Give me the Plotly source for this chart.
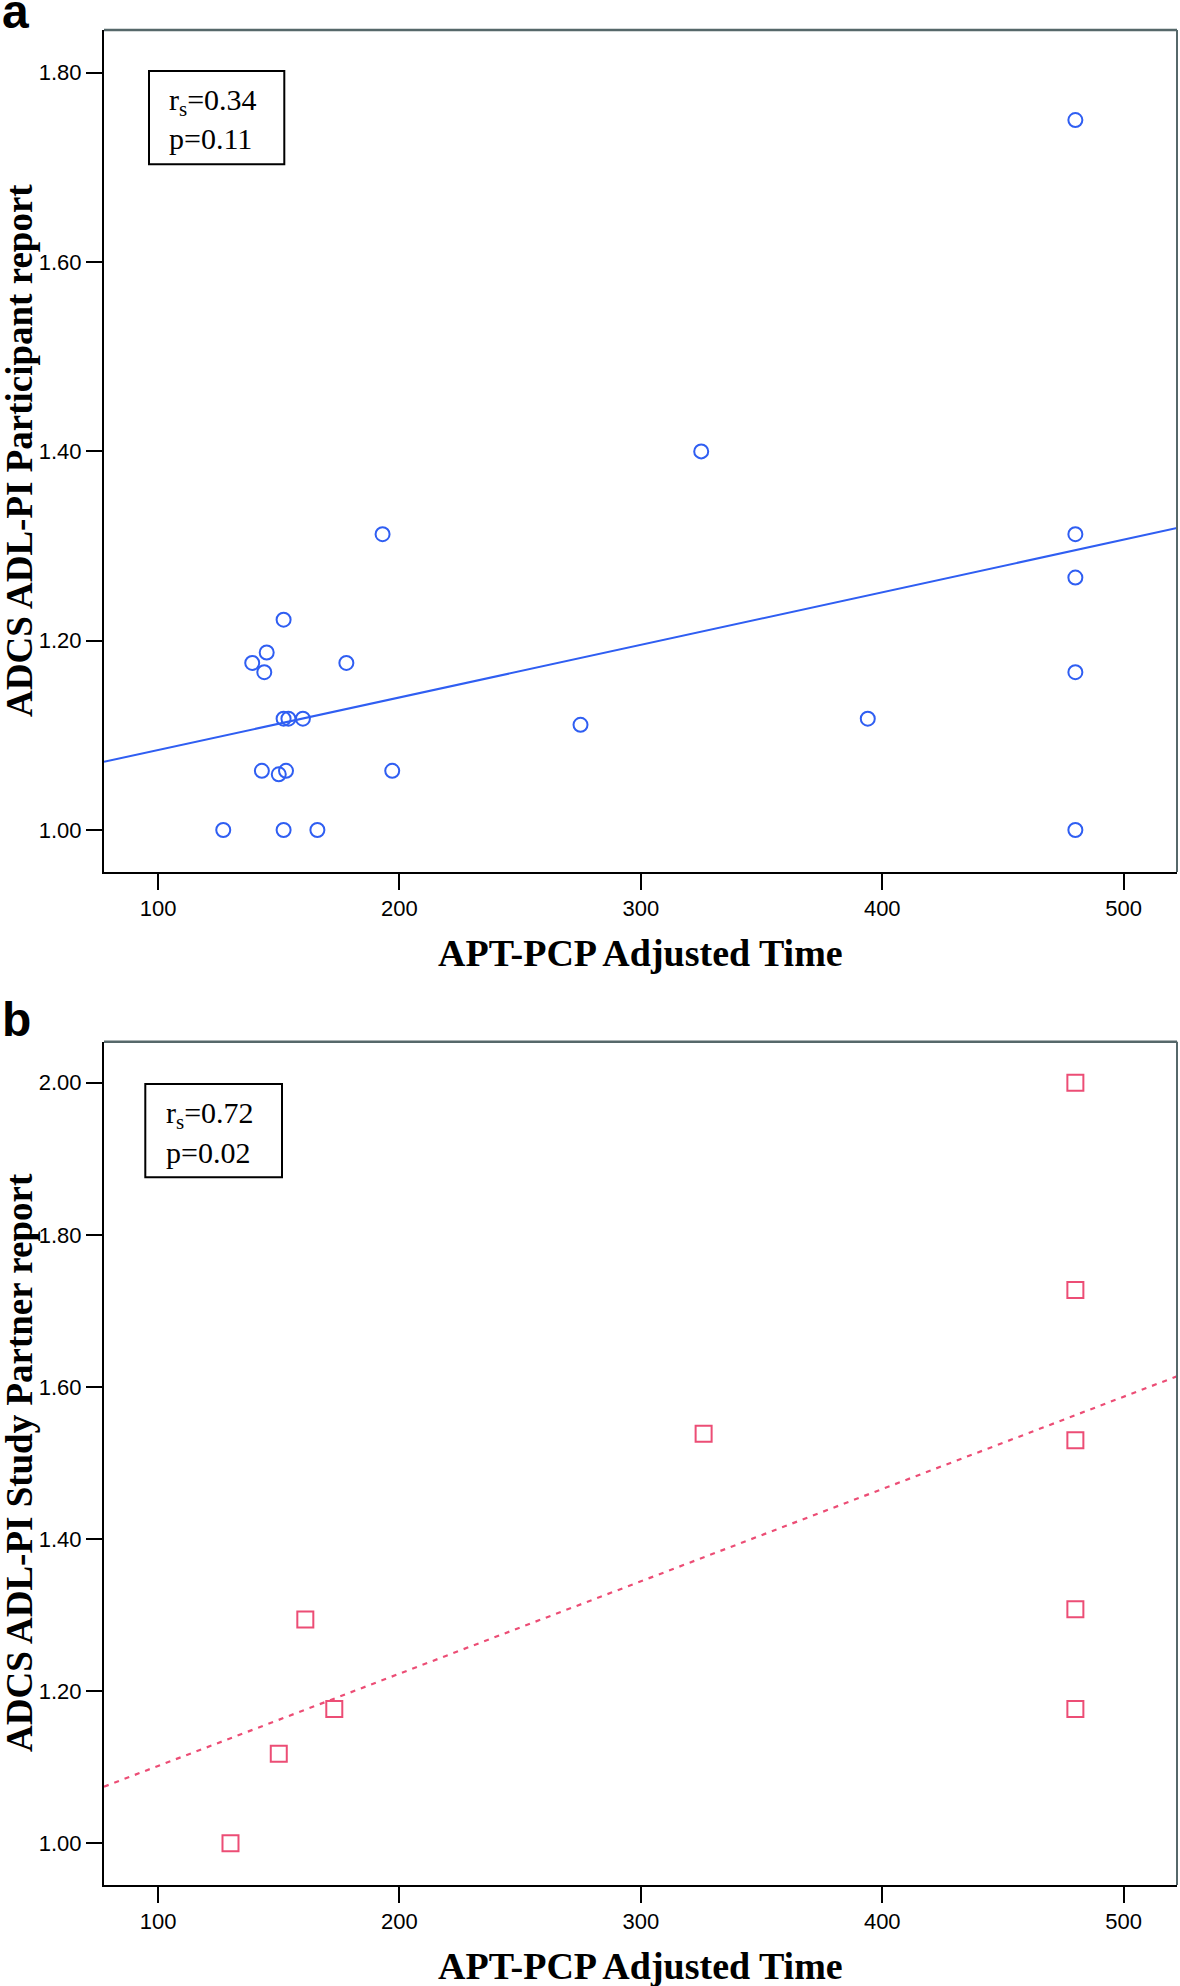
import plotly.graph_objects as go

W, H = 1180, 1986

# ---------------- data ----------------
# Panel a: ADCS ADL-PI Participant report vs APT-PCP adjusted time
a_time = [127, 152, 166, 480, 143, 150, 153, 197, 152, 154, 160, 275, 394,
          139, 144, 145, 152, 178, 193, 325, 480, 480, 480, 480]
a_score = [1.00, 1.00, 1.00, 1.00, 1.0625, 1.0588, 1.0625, 1.0625, 1.1176, 1.1176, 1.1176,
           1.1111, 1.1176, 1.1765, 1.1667, 1.1875, 1.2222, 1.1765, 1.3125, 1.40,
           1.75, 1.3125, 1.2667, 1.1667]
a_fit_x = [77.6, 522.1]
a_fit_y = [1.072, 1.319]
a_stats = ["r<sub>s</sub>=0.34", "p=0.11"]

# Panel b: ADCS ADL-PI Study Partner report vs APT-PCP adjusted time
b_time = [130, 150, 161, 173, 326, 480, 480, 480, 480, 480]
b_score = [1.00, 1.1176, 1.2941, 1.1765, 1.5385, 2.00, 1.7273, 1.53, 1.3077, 1.1765]
b_fit_x = [77.6, 522.1]
b_fit_y = [1.0745, 1.614]
b_stats = ["r<sub>s</sub>=0.72", "p=0.02"]

x_ticks = [100, 200, 300, 400, 500]
a_yticks = [1.00, 1.20, 1.40, 1.60, 1.80]
b_yticks = [1.00, 1.20, 1.40, 1.60, 1.80, 2.00]

x_title = "APT-PCP Adjusted Time"
a_ytitle = "ADCS ADL-PI Participant report"
b_ytitle = "ADCS ADL-PI Study Partner report"

# ---------------- style ----------------
BLUE = "#2f5ef2"
PINK = "#ec4d75"
SERIF = "Liberation Serif, Times New Roman, serif"
NARROW = "Liberation Sans Narrow, Arial Narrow, Liberation Sans, sans-serif"
SANS = "Liberation Sans, Arial, sans-serif"
FRAME_GRAY = "#56686a"


def px(x):
    return x / W


def py(y):
    return 1 - y / H


# plot areas in pixels (left, right, top, bottom)
A = (104, 1177, 30, 872)
B = (104, 1177, 1041.7, 1885)

fig = go.Figure()

fig.add_trace(go.Scatter(x=a_fit_x, y=a_fit_y, mode="lines",
                         line=dict(color=BLUE, width=2), xaxis="x", yaxis="y",
                         showlegend=False, hoverinfo="skip"))
fig.add_trace(go.Scatter(x=a_time, y=a_score, mode="markers",
                         marker=dict(symbol="circle-open", size=14, color=BLUE,
                                     line=dict(width=2, color=BLUE)),
                         xaxis="x", yaxis="y", showlegend=False))

fig.add_trace(go.Scatter(x=b_fit_x, y=b_fit_y, mode="lines",
                         line=dict(color=PINK, width=2.2, dash="5px,6px"),
                         xaxis="x2", yaxis="y2", showlegend=False, hoverinfo="skip"))
fig.add_trace(go.Scatter(x=b_time, y=b_score, mode="markers",
                         marker=dict(symbol="square-open", size=16, color=PINK,
                                     line=dict(width=2, color=PINK)),
                         xaxis="x2", yaxis="y2", showlegend=False))

xcommon = dict(
    range=[77.6, 522.1], tickmode="array", tickvals=x_ticks,
    ticktext=[str(v) for v in x_ticks],
    ticks="outside", ticklen=16, tickwidth=2, tickcolor="black",
    showline=True, linecolor="black", linewidth=2, showgrid=False, zeroline=False,
    tickfont=dict(family=NARROW, size=22, color="black"),
)
ycommon = dict(
    tickmode="array", ticks="outside", ticklen=16, tickwidth=2, tickcolor="black",
    showline=True, linecolor="black", linewidth=2, showgrid=False, zeroline=False,
    tickfont=dict(family=NARROW, size=22, color="black"),
)

fig.update_layout(
    width=W, height=H, margin=dict(l=0, r=0, t=0, b=0),
    paper_bgcolor="white", plot_bgcolor="white",
    xaxis=dict(domain=[px(A[0]), px(A[1])], anchor="y", **xcommon),
    yaxis=dict(domain=[py(A[3]), py(A[2])], anchor="x", range=[0.9556, 1.8452],
               tickvals=a_yticks, ticktext=[f"{v:.2f}" for v in a_yticks], **ycommon),
    xaxis2=dict(domain=[px(B[0]), px(B[1])], anchor="y2", **xcommon),
    yaxis2=dict(domain=[py(B[3]), py(B[2])], anchor="x2", range=[0.9452, 2.0539],
                tickvals=b_yticks, ticktext=[f"{v:.2f}" for v in b_yticks], **ycommon),
)

shapes = []
annotations = []
for (l, r, t, b) in (A, B):
    # gray top & right frame
    shapes.append(dict(type="line", xref="paper", yref="paper",
                       x0=px(l), x1=px(r), y0=py(t), y1=py(t),
                       line=dict(color=FRAME_GRAY, width=2.5)))
    shapes.append(dict(type="line", xref="paper", yref="paper",
                       x0=px(r), x1=px(r), y0=py(t), y1=py(b),
                       line=dict(color=FRAME_GRAY, width=2)))

# stat boxes
for (x0, y0, x1, y1), stats, tx, ty1, ty2 in (
        ((149, 71, 284.3, 164.3), a_stats, 167, 102, 139),
        ((145.3, 1084, 282, 1177.3), b_stats, 164, 1115, 1152)):
    shapes.append(dict(type="rect", xref="paper", yref="paper",
                       x0=px(x0), x1=px(x1), y0=py(y1), y1=py(y0),
                       line=dict(color="black", width=2), fillcolor="white", layer="below"))
    for txt, ty in ((stats[0], ty1), (stats[1], ty2)):
        annotations.append(dict(text=txt, xref="paper", yref="paper",
                                x=px(tx), y=py(ty), xanchor="left", yanchor="middle",
                                showarrow=False,
                                font=dict(family=SERIF, size=30, color="black")))

# axis titles
for cy, in ((953,), (1966,)):
    annotations.append(dict(text=f"<b>{x_title}</b>", xref="paper", yref="paper",
                            x=px(640.5), y=py(cy), xanchor="center", yanchor="middle",
                            showarrow=False,
                            font=dict(family=SERIF, size=38, color="black")))
for txt, cy in ((a_ytitle, 451), (b_ytitle, 1463)):
    annotations.append(dict(text=f"<b>{txt}</b>", xref="paper", yref="paper",
                            x=px(19), y=py(cy), xanchor="center", yanchor="middle",
                            textangle=-90, showarrow=False,
                            font=dict(family=SERIF, size=37, color="black")))

# panel letters
for letter, cy in (("a", 11), ("b", 1019)):
    annotations.append(dict(text=f"<b>{letter}</b>", xref="paper", yref="paper",
                            x=px(0), y=py(cy), xanchor="left", yanchor="middle",
                            showarrow=False,
                            font=dict(family=SANS, size=48, color="black")))

fig.update_layout(shapes=shapes, annotations=annotations)
fig.write_html(
    "out.html",
    config={"displayModeBar": False},
    post_script="document.body.style.margin='0';document.body.style.overflow='hidden';",
)
